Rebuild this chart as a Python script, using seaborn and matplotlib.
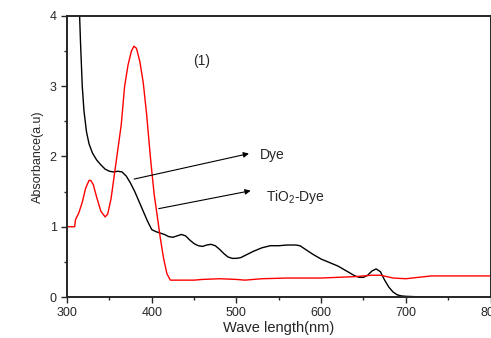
import pandas as pd
import seaborn as sns
import matplotlib
matplotlib.use("Agg")
from matplotlib import pyplot as plt
from matplotlib.ticker import MultipleLocator

# Dye (black curve)
dye_wl = [312, 314, 316, 318, 320, 323, 326, 330, 335, 340, 345, 350, 355, 360, 365,
          370, 375, 380, 385, 390, 395, 400, 405, 410, 415, 420, 425, 430, 435, 440,
          445, 450, 455, 460, 465, 470, 475, 480, 485, 490, 495, 500, 505, 510, 515,
          520, 530, 540, 550, 560, 570, 575, 580, 590, 600, 610, 620, 630, 640, 645,
          650, 655, 660, 665, 670, 675, 680, 685, 690, 695, 700, 710, 720, 740]
dye_abs = [4.8, 4.3, 3.6, 3.0, 2.65, 2.35, 2.18, 2.05, 1.95, 1.88, 1.82, 1.79, 1.78, 1.79, 1.78,
           1.72, 1.62, 1.5, 1.36, 1.22, 1.08, 0.96, 0.93, 0.91, 0.89, 0.86, 0.85, 0.87, 0.89, 0.87,
           0.81, 0.76, 0.73, 0.72, 0.74, 0.75, 0.73, 0.68, 0.62, 0.57, 0.55, 0.55, 0.56, 0.59, 0.62,
           0.65, 0.7, 0.73, 0.73, 0.74, 0.74, 0.73, 0.69, 0.61, 0.54, 0.49, 0.44, 0.37, 0.3, 0.28,
           0.28, 0.31, 0.37, 0.4, 0.36, 0.24, 0.14, 0.07, 0.03, 0.015, 0.01, 0.005, 0.0, 0.0]

# TiO2-Dye (red curve)
tio2_wl = [300, 309, 310, 314, 318, 322, 326, 328, 331, 335, 340, 345, 348, 352, 356,
           360, 364, 368, 372, 376, 379, 382, 386, 390, 394, 398, 400, 403, 406, 410,
           414, 418, 422, 430, 450, 460, 480, 500, 510, 530, 560, 600, 620, 640, 660,
           670, 685, 700, 715, 730, 760, 800]
tio2_abs = [1.0, 1.0, 1.1, 1.2, 1.35, 1.55, 1.66, 1.66, 1.6, 1.42, 1.22, 1.14, 1.18, 1.4, 1.75,
            2.1, 2.45, 3.0, 3.3, 3.5, 3.57, 3.54, 3.35, 3.05, 2.6, 2.05, 1.8, 1.45, 1.2, 0.85,
            0.55, 0.33, 0.24, 0.24, 0.24, 0.25, 0.26, 0.25, 0.24, 0.26, 0.27, 0.27, 0.28, 0.29, 0.31,
            0.31, 0.27, 0.26, 0.28, 0.3, 0.3, 0.3]

df = pd.concat([
    pd.DataFrame({"wl": dye_wl, "absorb": dye_abs, "sample": "Dye"}),
    pd.DataFrame({"wl": tio2_wl, "absorb": tio2_abs, "sample": "TiO2-Dye"}),
], ignore_index=True)

sns.set_style("ticks")
plt.rcParams["font.family"] = ["Liberation Sans", "DejaVu Sans"]
plt.rcParams["mathtext.fontset"] = "custom"
plt.rcParams["mathtext.rm"] = "Liberation Sans"
plt.rcParams["mathtext.it"] = "Liberation Sans"

fig = plt.figure(figsize=(4.91, 3.38), dpi=100)
ax = fig.add_axes([0.1365, 0.1213, 0.8625, 0.8314])

sns.lineplot(data=df, x="wl", y="absorb", hue="sample", sort=False,
             palette={"Dye": "black", "TiO2-Dye": "red"}, linewidth=1.0,
             legend=False, ax=ax)

ax.set_xlim(300, 800)
ax.set_ylim(0, 4)
ax.xaxis.set_major_locator(MultipleLocator(100))
ax.xaxis.set_minor_locator(MultipleLocator(50))
ax.yaxis.set_major_locator(MultipleLocator(1))
ax.yaxis.set_minor_locator(MultipleLocator(0.5))
ax.tick_params(which="both", direction="out", labelsize=9, width=1, top=False, right=False)
ax.tick_params(which="major", length=4)
ax.tick_params(which="minor", length=2.5)
for s in ax.spines.values():
    s.set_linewidth(1.4)
    s.set_visible(True)

ax.set_xlabel("Wave length(nm)", fontsize=10.5, labelpad=1)
ax.set_ylabel("Absorbance(a.u)", fontsize=9)

ax.text(459, 3.36, "(1)", fontsize=10, ha="center", va="center")
ax.annotate("", xy=(518, 2.05), xytext=(376, 1.67),
            arrowprops=dict(arrowstyle="-|>", color="black", lw=0.8, mutation_scale=8))
ax.text(528, 2.02, "Dye", fontsize=10, va="center")
ax.annotate("", xy=(520, 1.52), xytext=(405, 1.25),
            arrowprops=dict(arrowstyle="-|>", color="black", lw=0.8, mutation_scale=8))
ax.text(535, 1.42, r"TiO$_\mathrm{2}$-Dye", fontsize=10, va="center")

fig.savefig("out.png", dpi=100)
